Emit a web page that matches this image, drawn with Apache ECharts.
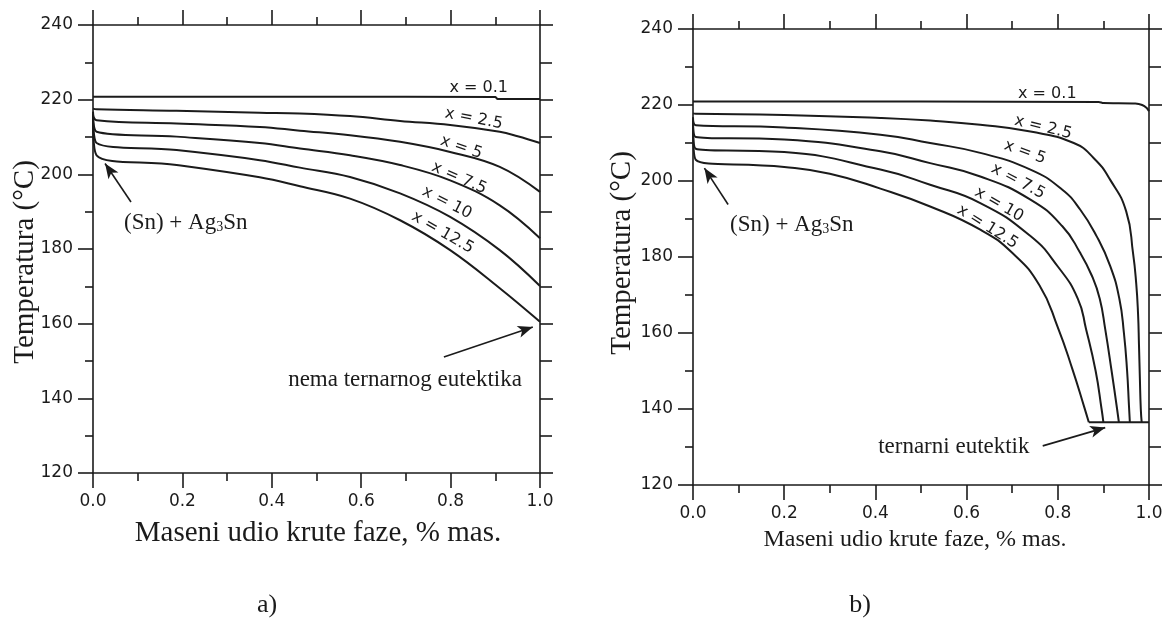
<!DOCTYPE html>
<html>
<head>
<meta charset="utf-8">
<script src="https://cdn.jsdelivr.net/npm/echarts@6/dist/echarts.min.js"></script>
<style>
  html, body { margin: 0; padding: 0; background: #ffffff; }
  #chart { width: 1167px; height: 625px; }
</style>
</head>
<body>
<div id="chart"></div>
<script>
// Scheil solidification curves of Sn-Ag-In alloys, x = In content
// Panel a: paths without the ternary eutectic; panel b: paths ending in the ternary eutectic

const xTicks = [0, 0.2, 0.4, 0.6, 0.8, 1.0];
const tempTicks = [120, 140, 160, 180, 200, 220, 240];
const curveNames = ['x = 0.1', 'x = 2.5', 'x = 5', 'x = 7.5', 'x = 10', 'x = 12.5'];

// panel a: [solid fraction, temperature °C]
const a_x0_1 = [[0, 220.8], [0.5, 220.8], [0.9, 220.7], [0.905, 220.2], [1.0, 220.2]];
const a_x2_5 = [[0, 217.6], [0.008, 217.4], [0.187, 217.0], [0.373, 216.5], [0.463, 216.3], [0.575, 215.6], [0.687, 214.3], [0.799, 213.2], [0.91, 211.4], [0.95, 210.2], [1.0, 208.4]];
const a_x5 = [[0, 216.8], [0.008, 214.5], [0.187, 213.6], [0.373, 212.7], [0.463, 211.7], [0.575, 210.5], [0.687, 208.7], [0.799, 206.0], [0.91, 202.0], [1.0, 195.3]];
const a_x7_5 = [[0, 216.2], [0.008, 211.4], [0.187, 210.1], [0.373, 208.4], [0.463, 206.9], [0.575, 205.1], [0.687, 202.5], [0.799, 198.4], [0.91, 191.7], [1.0, 182.9]];
const a_x10 = [[0, 215.6], [0.008, 208.4], [0.187, 206.5], [0.373, 203.8], [0.463, 201.8], [0.575, 199.3], [0.687, 194.9], [0.799, 188.6], [0.91, 179.7], [1.0, 170.1]];
const a_x12_5 = [[0, 215.0], [0.008, 205.1], [0.187, 202.5], [0.373, 199.2], [0.463, 196.8], [0.575, 193.5], [0.687, 187.7], [0.799, 179.7], [0.91, 169.5], [1.0, 160.5]];

// panel b: [solid fraction, temperature °C]
const b_x0_1 = [[0, 220.9], [0.5, 220.9], [0.89, 220.8], [0.9, 220.5], [0.97, 220.4], [0.985, 220.0], [0.995, 219.2], [1.0, 218.4]];
const b_x2_5 = [[0, 217.8], [0.006, 217.7], [0.2, 217.4], [0.411, 216.6], [0.52, 215.9], [0.63, 214.8], [0.74, 213.0], [0.835, 210.0], [0.879, 206.0], [0.915, 200.3], [0.95, 192.0], [0.965, 181.0], [0.972, 173.0], [0.976, 165.0], [0.978, 157.0], [0.980, 148.0], [0.982, 140.0], [0.984, 136.5]];
const b_x5 = [[0, 216.8], [0.006, 214.7], [0.2, 214.1], [0.411, 212.2], [0.52, 210.0], [0.63, 207.4], [0.74, 203.0], [0.81, 197.7], [0.849, 192.5], [0.885, 185.5], [0.915, 177.6], [0.935, 169.0], [0.945, 160.0], [0.952, 150.0], [0.956, 141.0], [0.958, 136.5]];
const b_x7_5 = [[0, 216.2], [0.006, 211.6], [0.2, 210.9], [0.411, 207.8], [0.52, 204.7], [0.63, 201.2], [0.74, 195.1], [0.81, 188.1], [0.849, 181.1], [0.875, 175.0], [0.892, 169.0], [0.904, 161.0], [0.918, 150.0], [0.930, 140.0], [0.934, 136.5]];
const b_x10 = [[0, 215.6], [0.006, 208.5], [0.2, 207.6], [0.411, 203.0], [0.52, 199.0], [0.63, 194.2], [0.74, 185.5], [0.80, 177.5], [0.844, 169.0], [0.862, 161.0], [0.883, 150.0], [0.896, 140.0], [0.9, 136.5]];
const b_x12_5 = [[0, 215.0], [0.006, 205.6], [0.2, 203.7], [0.3, 201.9], [0.411, 198.0], [0.52, 193.3], [0.63, 187.2], [0.70, 181.1], [0.76, 172.5], [0.80, 161.5], [0.832, 150.5], [0.858, 140.5], [0.868, 136.5]];
const b_eutectic = [[0.868, 136.5], [1.0, 136.5]];

// where each curve label sits (data coords) and its tilt in degrees
const aLabelAt = [[0.863, 223.1, 0], [0.852, 214.9, 11], [0.824, 207.2, 19], [0.819, 199.0, 24], [0.792, 192.4, 27], [0.782, 184.4, 30]];
const bLabelAt = [[0.777, 222.9, 0], [0.768, 214.1, 14], [0.728, 207.6, 20], [0.713, 199.9, 28], [0.671, 193.8, 30], [0.646, 187.9, 32]];

// annotation arrows: [tail, head] in data coords
const aArrowSn = [[0.085, 192.6], [0.027, 202.9]];
const aArrowEut = [[0.785, 151.1], [0.984, 159.1]];
const bArrowSn = [[0.077, 193.8], [0.025, 203.4]];
const bArrowEut = [[0.767, 130.3], [0.904, 135.1]];

const ink = '#1b1b1b';
const sans = 'DejaVu Sans';
const serif = 'Liberation Serif';

const chart = echarts.init(document.getElementById('chart'), null, { renderer: 'canvas' });

const grids = [
  { left: 93, top: 25, width: 447, height: 448 },
  { left: 693, top: 29, width: 456, height: 456 }
];

function axisLine() { return { show: true, onZero: false, lineStyle: { color: ink, width: 1.6 } }; }

function xAxisPair(g) {
  const base = {
    gridIndex: g, type: 'value', min: xTicks[0], max: xTicks[xTicks.length - 1],
    interval: xTicks[1] - xTicks[0], splitLine: { show: false }, axisLine: axisLine()
  };
  return [
    Object.assign({}, base, {
      position: 'bottom',
      axisTick: { show: true, inside: false, length: 15, lineStyle: { color: ink, width: 1.6 } },
      minorTick: { show: true, splitNumber: 2, length: 8, lineStyle: { color: ink, width: 1.6 } },
      axisLabel: { show: true, margin: 20, fontFamily: sans, fontSize: 17, color: ink,
        formatter: v => v.toFixed(1) }
    }),
    Object.assign({}, base, {
      position: 'top',
      axisTick: { show: true, inside: false, length: 15, lineStyle: { color: ink, width: 1.6 } },
      minorTick: { show: true, splitNumber: 2, length: 8, lineStyle: { color: ink, width: 1.6 } },
      axisLabel: { show: false }
    })
  ];
}

function yAxisPair(g) {
  const base = {
    gridIndex: g, type: 'value', min: tempTicks[0], max: tempTicks[tempTicks.length - 1],
    interval: tempTicks[1] - tempTicks[0], splitLine: { show: false }, axisLine: axisLine()
  };
  return [
    Object.assign({}, base, {
      position: 'left',
      axisTick: { show: true, inside: false, length: 15, lineStyle: { color: ink, width: 1.6 } },
      minorTick: { show: true, splitNumber: 2, length: 8, lineStyle: { color: ink, width: 1.6 } },
      axisLabel: { show: true, margin: 20, fontFamily: sans, fontSize: 17, color: ink }
    }),
    Object.assign({}, base, {
      position: 'right',
      axisTick: { show: true, inside: false, length: 13, lineStyle: { color: ink, width: 1.6 } },
      minorTick: { show: true, splitNumber: 2, length: 12, lineStyle: { color: ink, width: 1.6 } },
      axisLabel: { show: false }
    })
  ];
}

function curve(name, data, axis, smooth) {
  return {
    name: name, type: 'line', data: data, xAxisIndex: axis, yAxisIndex: axis,
    showSymbol: false, smooth: smooth, animation: false, silent: true,
    lineStyle: { color: ink, width: 2 }
  };
}

function arrows(list, axis) {
  return {
    type: 'line', data: [], xAxisIndex: axis, yAxisIndex: axis, animation: false, silent: true,
    markLine: {
      silent: true, animation: false,
      symbol: ['none', 'arrow'], symbolSize: [9, 15],
      label: { show: false },
      lineStyle: { color: ink, width: 1.6, type: 'solid' },
      data: list.map(a => [{ coord: a[0] }, { coord: a[1] }])
    }
  };
}

const aCurves = [a_x0_1, a_x2_5, a_x5, a_x7_5, a_x10, a_x12_5];
const bCurves = [b_x0_1, b_x2_5, b_x5, b_x7_5, b_x10, b_x12_5];

const series = [];
aCurves.forEach((d, i) => series.push(curve('a ' + curveNames[i], d, 0, i === 0 ? 0.2 : 0.4)));
bCurves.forEach((d, i) => series.push(curve('b ' + curveNames[i], d, 2, i === 0 ? 0.2 : 0.5)));
series.push(curve('b eutectic', b_eutectic, 2, false));
series.push(arrows([aArrowSn, aArrowEut], 0));
series.push(arrows([bArrowSn, bArrowEut], 2));

const xa = xAxisPair(0), xb = xAxisPair(1);
const ya = yAxisPair(0), yb = yAxisPair(1);

chart.setOption({
  animation: false,
  backgroundColor: '#ffffff',
  grid: grids,
  xAxis: [xa[0], xa[1], xb[0], xb[1]],
  yAxis: [ya[0], ya[1], yb[0], yb[1]],
  series: series
});

// text placed from data coordinates
function at(axis, p) {
  return chart.convertToPixel({ xAxisIndex: axis, yAxisIndex: axis }, p);
}

const graphics = [];

function curveLabels(list, axis) {
  list.forEach((l, i) => {
    const p = at(axis, [l[0], l[1]]);
    graphics.push({
      type: 'text', x: p[0], y: p[1], rotation: -l[2] * Math.PI / 180, silent: true,
      style: { text: curveNames[i], fill: ink, font: '16px "' + sans + '"', align: 'center', verticalAlign: 'middle' }
    });
  });
}
curveLabels(aLabelAt, 0);
curveLabels(bLabelAt, 2);

function phaseLabel(axis, pos) {
  const p = at(axis, pos);
  graphics.push({
    type: 'text', x: p[0], y: p[1], silent: true,
    style: {
      text: '{m|(Sn) + Ag}{s|3}{m|Sn}',
      align: 'center', verticalAlign: 'middle',
      rich: {
        m: { fontFamily: serif, fontSize: 23, lineHeight: 26, fill: ink, verticalAlign: 'bottom' },
        s: { fontFamily: serif, fontSize: 14, lineHeight: 14, fill: ink, verticalAlign: 'bottom' }
      }
    }
  });
}
phaseLabel(0, [0.2075, 187.4]);
phaseLabel(2, [0.2166, 188.8]);

function note(axis, pos, text) {
  const p = at(axis, pos);
  graphics.push({
    type: 'text', x: p[0], y: p[1], silent: true,
    style: { text: text, fill: ink, font: '23px "' + serif + '"', align: 'center', verticalAlign: 'middle' }
  });
}
note(0, [0.698, 144.8], 'nema ternarnog eutektika');
note(2, [0.572, 130.0], 'ternarni eutektik');

function title(x, y, text, size, rot) {
  graphics.push({
    type: 'text', x: x, y: y, rotation: rot || 0, silent: true,
    style: { text: text, fill: ink, font: size + 'px "' + serif + '"', align: 'center', verticalAlign: 'middle' }
  });
}
title(25, 262, 'Temperatura (°C)', 29, Math.PI / 2);
title(622, 253, 'Temperatura (°C)', 29, Math.PI / 2);
title(318, 533, 'Maseni udio krute faze, % mas.', 29);
title(915, 540, 'Maseni udio krute faze, % mas.', 24);
title(267, 605, 'a)', 26);
title(860, 605, 'b)', 26);

chart.setOption({ graphic: graphics });
</script>
</body>
</html>
